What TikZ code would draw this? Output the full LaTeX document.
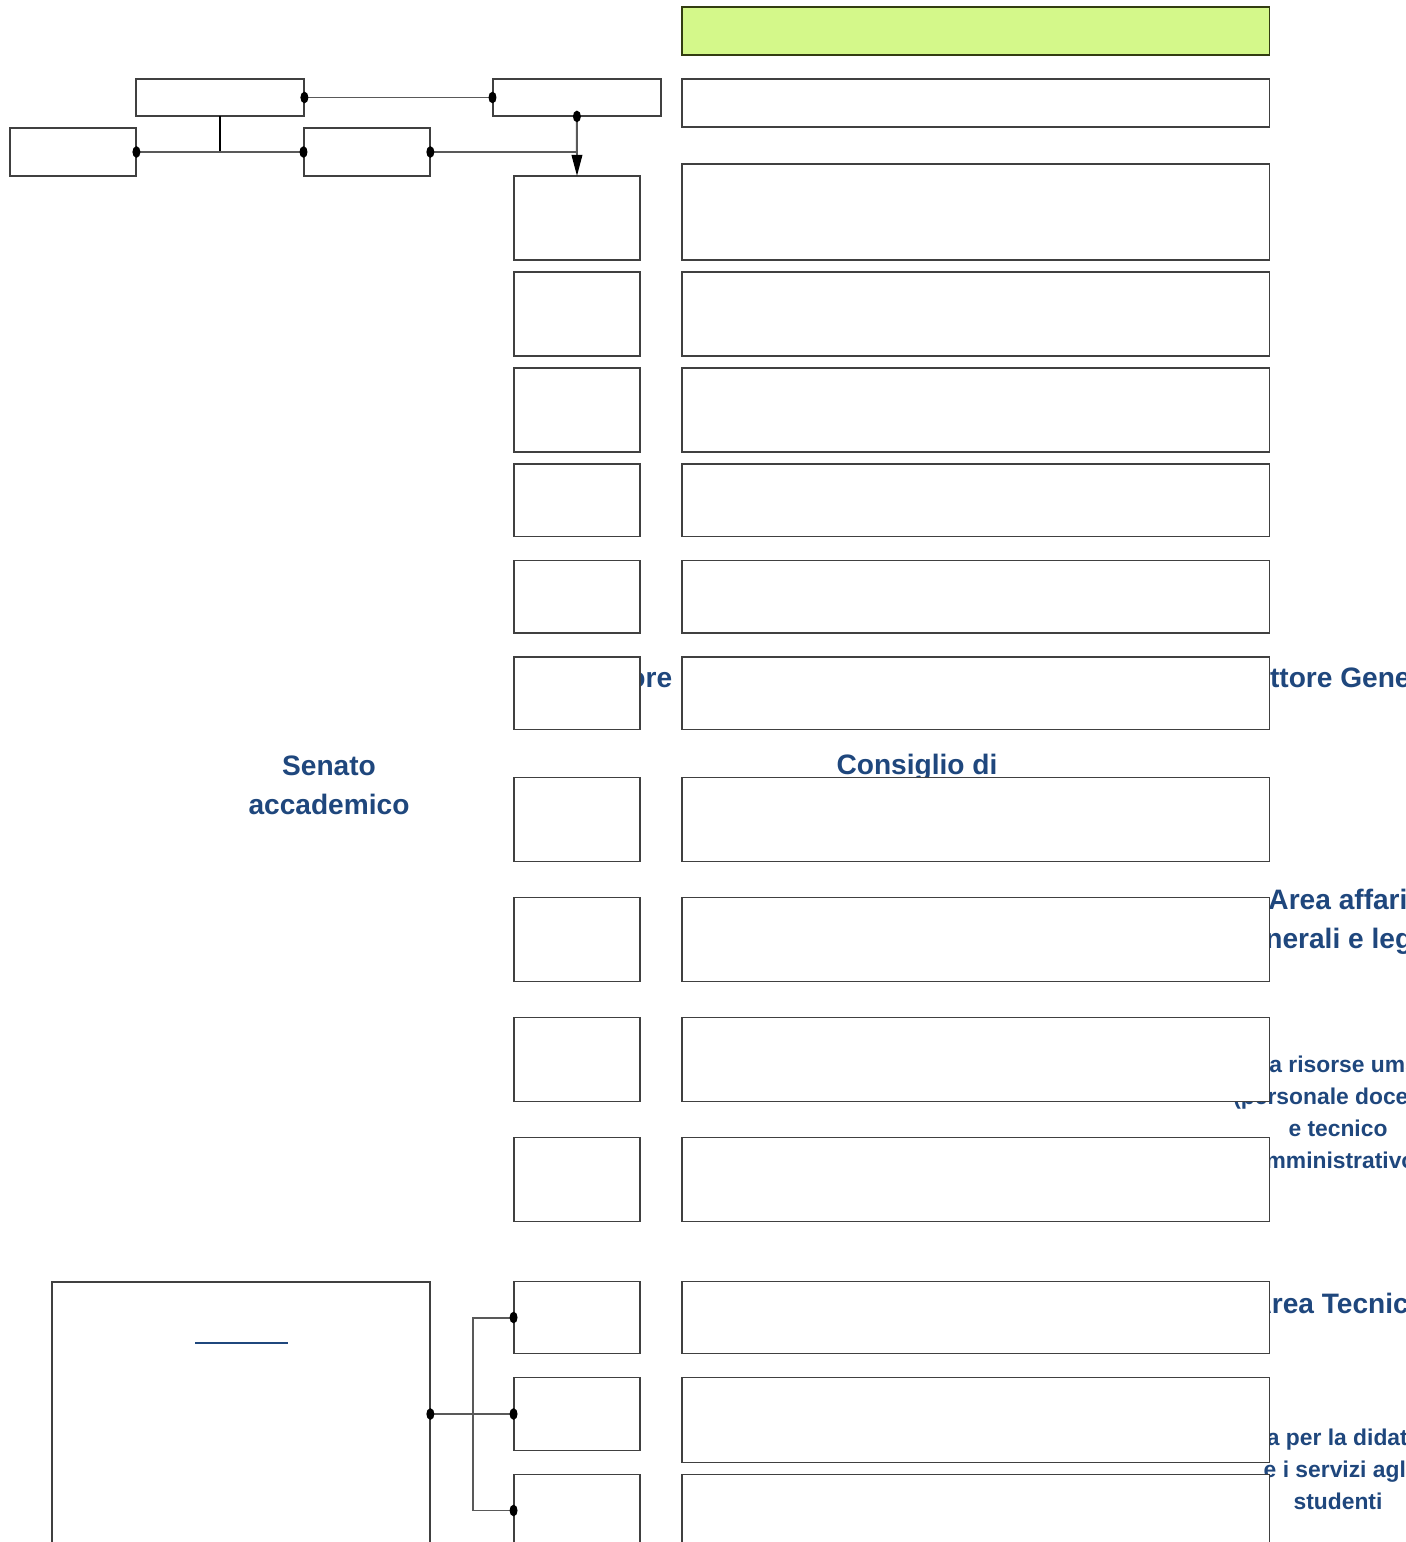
\documentclass[tikz,border=0pt]{standalone}
\usepackage{fontspec}
\setmainfont{Liberation Sans}
\usetikzlibrary{arrows.meta,positioning}
\definecolor{orgblue}{RGB}{31,71,125}
\definecolor{headgreen}{RGB}{212,248,138}
\definecolor{headedge}{RGB}{51,61,17}
\tikzset{
  knob/.tip={Circle[length=4.5pt, width=6.5pt, color=black]},
  knobv/.tip={Circle[length=6.5pt, width=4.5pt, color=black]}
}

\begin{document}
\begin{tikzpicture}[
    x=0.02cm, y=-0.02cm,
    box/.style={draw=black!75, line width=0.7pt, fill=white, inner sep=0pt, outer sep=0pt},
    unit/.style={box, minimum width=2.52cm, minimum height=1.68cm},
    unitlow/.style={box, minimum width=2.52cm, minimum height=1.45cm},
    panel/.style={box, minimum width=11.76cm, minimum height=1.68cm},
    panellow/.style={box, minimum width=11.76cm, minimum height=1.45cm},
    tab/.style={box, minimum width=3.36cm, minimum height=0.74cm},
    tabwide/.style={box, minimum width=2.52cm, minimum height=0.96cm},
    title/.style={font=\bfseries\fontsize{16}{22}\selectfont, text=orgblue,
      align=center, anchor=base, inner sep=0pt},
    subtitle/.style={font=\bfseries\fontsize{13}{18.2}\selectfont, text=orgblue,
      align=center, anchor=base, inner sep=0pt},
    conn/.style={draw=black!65, line width=1.1pt}
  ]
    \clip (0,0) rectangle (1406,1542);

    % labels (partly covered by the boxes), placed at the baseline of their last line
    \node[title] (rettore) at (623,687) {Rettore};
    \node[title] (senato) at (329,814) {Senato\\accademico};
    \node[title] (cda) at (917,813) {Consiglio di\\amministrazione};
    \node[title] (dg) at (1338,687) {Direttore Generale};
    \node[title] (affari) at (1338,948) {Area affari\\generali e legali};
    \node[subtitle] (risorse) at (1338,1168) {Area risorse umane\\(personale docente\\e tecnico\\amministrativo)};
    \node[title] (tecnica) at (1338,1313) {Area Tecnica};
    \node[subtitle] (didattica) at (1338,1509) {Area per la didattica\\e i servizi agli\\studenti};

    % top row
    \node[tab, anchor=north west] (ta) at (136,79) {};
    \node[tab, right=3.78cm of ta] (tb) {};
    \node[tabwide, anchor=north west] (tc) at (10,128) {};
    \node[tabwide, right=3.36cm of tc] (td) {};

    % column of units
    \node[unit, anchor=north west] (u1) at (514,176) {};
    \node[unit, below=0.24cm of u1] (u2) {};
    \node[unit, below=0.24cm of u2] (u3) {};
    \node[unitlow, below=0.24cm of u3] (u4) {};
    \node[unitlow, below=0.48cm of u4] (u5) {};
    \node[unitlow, below=0.48cm of u5] (u6) {};
    \node[unit, below=0.96cm of u6] (u7) {};
    \node[unit, below=0.72cm of u7] (u8) {};
    \node[unit, below=0.72cm of u8] (u9) {};
    \node[unit, below=0.72cm of u9] (u10) {};
    \node[unitlow, below=1.2cm of u10] (u11) {};
    \node[unitlow, below=0.48cm of u11] (u12) {};
    \node[unitlow, below=0.48cm of u12] (u13) {};

    % panels
    \node[panel, minimum height=1.92cm, right=0.84cm of u1.south east, anchor=south west] (p1) {};
    \node[panel, minimum height=0.96cm, above=0.74cm of p1] (p0) {};
    \node[panel, minimum height=0.96cm, fill=headgreen, draw=headedge, above=0.48cm of p0] (head) {};
    \node[panel, right=0.84cm of u2] (p2) {};
    \node[panel, right=0.84cm of u3] (p3) {};
    \node[panellow, right=0.84cm of u4] (p4) {};
    \node[panellow, right=0.84cm of u5] (p5) {};
    \node[panellow, right=0.84cm of u6] (p6) {};
    \node[panel, right=0.84cm of u7] (p7) {};
    \node[panel, right=0.84cm of u8] (p8) {};
    \node[panel, right=0.84cm of u9] (p9) {};
    \node[panel, right=0.84cm of u10] (p10) {};
    \node[panellow, right=0.84cm of u11] (p11) {};
    \node[panel, minimum height=1.7cm, right=0.84cm of u12.north east, anchor=north west] (p12) {};
    \node[panel, right=0.84cm of u13.north east, anchor=north west] (p13) {};

    % lower left frame
    \node[box, minimum width=7.56cm, minimum height=6cm, anchor=north west] (board) at (52,1282) {};
    \draw[orgblue, line width=1.2pt] (195,1343) -- (288,1343);

    % connectors
    \draw[conn, knob-knob, shorten <=-2pt, shorten >=-2pt] (ta.east) -- (tb.west);
    \draw[black, line width=0.6pt] (ta.south) -- (ta.south |- tc.east);
    \draw[conn, knob-knob, shorten <=-2pt, shorten >=-2pt] (tc.east) -- (td.west);
    \draw[conn, knob-, shorten <=-2pt] (td.east) -- (td.east -| tb.south);
    \draw[conn, knobv-{Triangle[length=12pt, width=6pt, color=black]}, shorten <=-3pt] (tb.south) -- (u1.north);

    \draw[conn, knob-knob, shorten <=-2pt, shorten >=-2pt] (board.east |- u12.west) -- (u12.west);
    \draw[conn, knob-knob, shorten <=-2pt, shorten >=-2pt] (u11.west) -- ++(-41,0) |- (u13.west);
  \end{tikzpicture}
\end{document}
